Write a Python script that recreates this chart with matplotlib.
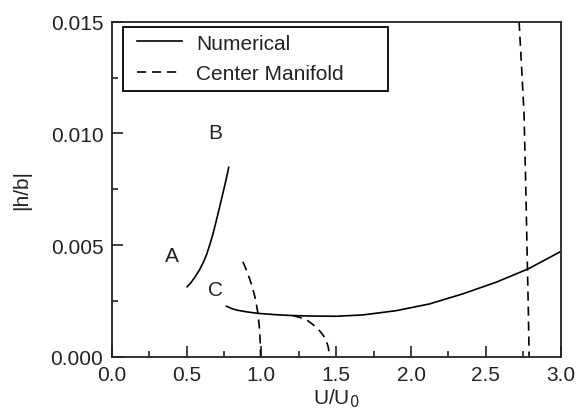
import matplotlib
matplotlib.use("Agg")
import matplotlib.pyplot as plt
from matplotlib.ticker import MultipleLocator, FormatStrFormatter
from matplotlib.patches import Rectangle

plt.rcParams['font.family'] = ['Liberation Sans', 'DejaVu Sans']

# Numerical branch A-B
ab_x = [0.504, 0.530, 0.555, 0.585, 0.611, 0.635, 0.657, 0.678, 0.700, 0.722, 0.744, 0.764, 0.782]
ab_y = [0.00313, 0.00332, 0.00355, 0.00387, 0.00421, 0.00459, 0.00505, 0.00553, 0.00612, 0.00673, 0.00735, 0.00792, 0.00848]

# Numerical branch C
c_x = [0.767, 0.800, 0.833, 0.900, 0.977, 1.100, 1.211, 1.350, 1.500, 1.677, 1.900, 2.122, 2.344, 2.567, 2.782, 2.989, 3.0]
c_y = [0.00226, 0.00216, 0.00209, 0.00201, 0.00194, 0.00188, 0.00184, 0.00182, 0.00181, 0.00187, 0.00206, 0.00236, 0.00281, 0.00333, 0.00393, 0.00467, 0.00471]

# Center manifold branches
cm1_x = [0.877, 0.900, 0.922, 0.940, 0.955, 0.967, 0.977, 0.984, 0.989, 0.993, 0.995]
cm1_y = [0.00425, 0.00388, 0.00348, 0.00310, 0.00273, 0.00233, 0.00194, 0.00150, 0.00109, 0.00055, 0.0]
cm2_x = [1.211, 1.260, 1.311, 1.352, 1.389, 1.415, 1.433, 1.446, 1.452, 1.455]
cm2_y = [0.00184, 0.00175, 0.00161, 0.00140, 0.00116, 0.00094, 0.00072, 0.00045, 0.00022, 0.0]
cm3_x = [2.722, 2.740, 2.755, 2.767, 2.777, 2.784, 2.789]
cm3_y = [0.01500, 0.01280, 0.01090, 0.00750, 0.00420, 0.00200, 0.0]

labels = ['A', 'B', 'C']
label_x = [0.40, 0.695, 0.695]
label_y = [0.00452, 0.01005, 0.00303]

FS = 15
W, H = 577, 410
fig = plt.figure(figsize=(5.77, 4.10), dpi=100)
ax = fig.add_axes([111.7/W, 1 - 357.7/H, (560.7-111.7)/W, (357.7-22.7)/H])

ax.plot(ab_x, ab_y, 'k-', lw=1.2, label='Numerical')
ax.plot(c_x, c_y, 'k-', lw=1.2)
ax.plot(cm1_x, cm1_y, 'k--', lw=1.2, dashes=(5.5, 3.5), label='Center Manifold')
ax.plot(cm2_x, cm2_y, 'k--', lw=1.2, dashes=(5.5, 3.5))
ax.plot(cm3_x, cm3_y, 'k--', lw=1.2, dashes=(5.5, 3.5))

for t, x, y in zip(labels, label_x, label_y):
    ax.text(x, y, t, fontsize=FS, ha='center', va='center', color='#222222')

ax.set_xlim(0, 3.0)
ax.set_ylim(0, 0.015)
ax.xaxis.set_major_locator(MultipleLocator(0.5))
ax.xaxis.set_minor_locator(MultipleLocator(0.25))
ax.yaxis.set_major_locator(MultipleLocator(0.005))
ax.yaxis.set_minor_locator(MultipleLocator(0.0025))
ax.xaxis.set_major_formatter(FormatStrFormatter('%.1f'))
ax.yaxis.set_major_formatter(FormatStrFormatter('%.3f'))
ax.tick_params(which='both', direction='in', labelsize=FS, width=1.2, colors='#222222')
ax.tick_params(which='major', length=8)
ax.tick_params(which='minor', length=4)
ax.tick_params(axis='x', which='major', pad=6)
ax.tick_params(axis='y', which='major', pad=6)
for s in ax.spines.values():
    s.set_linewidth(1.3)
    s.set_color('#222222')

ax.set_xlabel('U/U$_0$', fontsize=FS, labelpad=2, color='#222222')
ax.set_ylabel('|h/b|', fontsize=FS, labelpad=14, color='#222222')

# legend frame (drawn separately to match the reference's wide right margin)
x0, y0, x1, y1 = 123.3, 28.3, 388.3, 91.7
fig.patches.append(Rectangle((x0/W, 1 - y1/H), (x1-x0)/W, (y1-y0)/H,
                             transform=fig.transFigure, fill=False,
                             edgecolor='black', linewidth=1.3, zorder=5))
leg = ax.legend(loc='upper left', bbox_to_anchor=((x0 + 7 - 111.7)/449, 1 - (y0-22.7)/335),
                borderaxespad=0, fontsize=FS, frameon=False,
                handlelength=2.2, borderpad=0.3,
                labelspacing=0.55, handletextpad=0.65)
for t in leg.get_texts():
    t.set_color('#222222')

fig.savefig('out.png', dpi=100)
